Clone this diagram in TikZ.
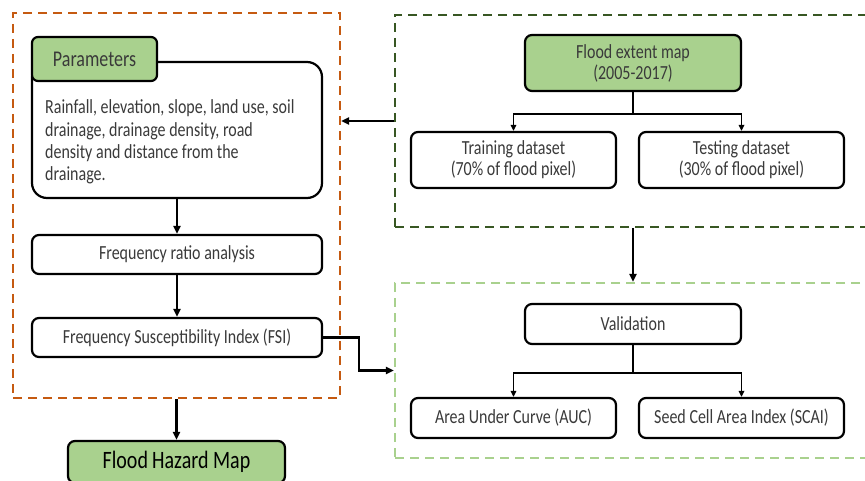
\documentclass[tikz,border=0pt]{standalone}
\usepackage{fontspec}
\setmainfont{Carlito}[FakeStretch=0.8]
\usetikzlibrary{arrows.meta}
\definecolor{orangeline}{HTML}{C55A11}
\definecolor{darkgreen}{HTML}{385723}
\definecolor{lightgreen}{HTML}{A9D18E}
\definecolor{textgray}{HTML}{3A3A3A}
\tikzset{
    whitebox/.style={draw=black, line width=2.2pt, rounded corners=7pt, fill=white, text=textgray, align=center, font=\fontsize{20}{21}\selectfont},
    greenbox/.style={whitebox, fill=lightgreen},
    frame/.style={dashed, line width=2.2pt, dash pattern=on 9pt off 6pt},
    flow/.style={line width=2.2pt, -{Triangle[length=8pt,width=7pt]}},
    branch/.style={line width=1.8pt, -{Triangle[length=6pt,width=5.5pt]}}
}
\begin{document}
\begin{tikzpicture}[x=1pt,y=-1pt]
    \useasboundingbox (0,0) rectangle (865,481);
    % dashed frames
    \node[frame, draw=orangeline, minimum width=327pt, minimum height=385pt] (obox) at (176.5,205.5) {};
    \node[frame, draw=darkgreen, minimum width=490pt, minimum height=212pt] (gbox) at (640,121) {};
    \node[frame, draw=lightgreen, minimum width=490pt, minimum height=175pt] (vbox) at (640,370.5) {};
    % left column
    \node[whitebox, rounded corners=15pt, minimum width=290pt, minimum height=136pt] (pbox) at (177,130) {};
    \node[greenbox, rounded corners=6pt, minimum width=125pt, minimum height=44pt, font=\fontsize{22.5}{24}\selectfont] (ptab) at (94.5,59) {Parameters};
    \node[anchor=base west, inner sep=0pt, text width=275pt, align=flush left, text=textgray, font=\fontsize{20}{22.3}\selectfont] (ptext) at (45,114)
        {Rainfall, elevation, slope, land use, soil\\drainage, drainage density, road\\density and distance from the\\drainage.};
    \node[whitebox, minimum width=290pt, minimum height=39pt] (fra) at (177,254.5) {Frequency ratio analysis};
    \node[whitebox, minimum width=290pt, minimum height=39pt] (fsi) at (177,337.5) {Frequency Susceptibility Index (FSI)};
    \node[greenbox, minimum width=217pt, minimum height=42pt, text=black, font=\fontsize{25}{27}\selectfont] (fhm) at (176.5,462) {Flood\,Hazard Map};
    % right column
    \node[greenbox, minimum width=216pt, minimum height=56pt] (fem) at (633,63) {Flood extent map\\(2005-2017)};
    \node[whitebox, minimum width=205pt, minimum height=56pt] (train) at (513.5,160) {Training dataset\\(70\% of flood pixel)};
    \node[whitebox, minimum width=205pt, minimum height=56pt] (test) at (741.5,160) {Testing dataset\\(30\% of flood pixel)};
    \node[whitebox, minimum width=216pt, minimum height=40pt] (val) at (633,324) {Validation};
    \node[whitebox, minimum width=205pt, minimum height=40pt] (auc) at (513.5,418) {Area Under Curve (AUC)};
    \node[whitebox, minimum width=205pt, minimum height=40pt] (scai) at (741.5,418) {Seed Cell Area Index (SCAI)};
    % connectors
    \draw[flow] (pbox.south) -- (fra.north);
    \draw[flow] (fra.south) -- (fsi.north);
    \draw[flow] (obox.south) -- (fhm.north);
    \draw[flow] (gbox.west) -- (gbox.west -| obox.east);
    \draw[flow] (gbox.south -| fem.south) -- (vbox.north -| fem.south);
    \draw[flow] (fsi.east) -- ++(36,0) |- (vbox.west);
    \draw[branch] (fem.south) -- ++(0,22) -| (train.north);
    \draw[branch] (fem.south) -- ++(0,22) -| (test.north);
    \draw[branch] (val.south) -- ++(0,28) -| (auc.north);
    \draw[branch] (val.south) -- ++(0,28) -| (scai.north);
\end{tikzpicture}
\end{document}
